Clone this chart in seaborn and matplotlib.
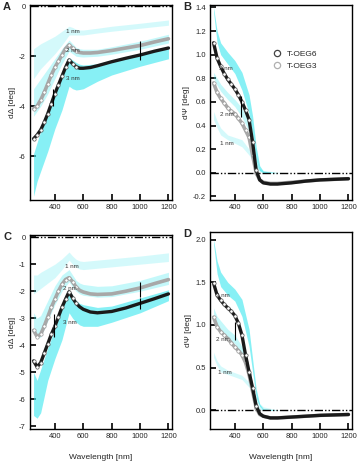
import numpy as np
import pandas as pd
import seaborn as sns
import matplotlib.pyplot as plt
from matplotlib.lines import Line2D

sns.set_theme(style="ticks")
plt.rcParams['font.family'] = ['Liberation Sans', 'DejaVu Sans']
plt.rcParams['axes.unicode_minus'] = False

# wavelengths of the measured series
wl = [250, 275, 300, 325, 350, 375, 400, 425, 450, 475, 500, 525, 550, 575, 600,
      650, 700, 800, 900, 1000, 1100, 1200]

# panel A: dDelta
a_oeg6 = [-5.3, -5.15, -4.95, -4.65, -4.3, -3.9, -3.5, -3.15, -2.8, -2.45, -2.15, -2.3,
          -2.42, -2.48, -2.48, -2.45, -2.38, -2.22, -2.08, -1.95, -1.8, -1.67]
a_oeg3 = [-4.1, -4.0, -3.75, -3.45, -3.1, -2.75, -2.45, -2.2, -1.95, -1.7, -1.55, -1.68,
          -1.8, -1.85, -1.87, -1.87, -1.85, -1.77, -1.67, -1.57, -1.43, -1.3]
# panel B: dPsi
b_oeg6 = [1.1, 0.97, 0.9, 0.84, 0.79, 0.75, 0.71, 0.66, 0.6, 0.53, 0.45, 0.26, 0.02,
          -0.06, -0.085, -0.095, -0.095, -0.085, -0.07, -0.06, -0.055, -0.05]
b_oeg3 = [0.76, 0.68, 0.63, 0.59, 0.55, 0.52, 0.5, 0.46, 0.42, 0.36, 0.3, 0.15, 0.0,
          -0.06, -0.08, -0.09, -0.09, -0.08, -0.07, -0.06, -0.055, -0.05]
# panel C: dDelta
c_oeg6 = [-4.58, -4.8, -4.65, -4.3, -3.95, -3.6, -3.3, -2.95, -2.6, -2.3, -2.02, -2.25,
          -2.45, -2.58, -2.67, -2.77, -2.8, -2.75, -2.62, -2.45, -2.28, -2.1]
c_oeg3 = [-3.45, -3.68, -3.6, -3.3, -2.95, -2.6, -2.3, -2.0, -1.75, -1.57, -1.5, -1.65,
          -1.85, -1.97, -2.03, -2.1, -2.12, -2.1, -2.0, -1.88, -1.72, -1.57]
# panel D: dPsi
d_oeg6 = [1.49, 1.35, 1.29, 1.24, 1.2, 1.16, 1.11, 1.02, 0.88, 0.65, 0.45, 0.26, 0.05,
          -0.04, -0.07, -0.09, -0.09, -0.08, -0.07, -0.06, -0.055, -0.05]
d_oeg3 = [1.09, 0.98, 0.92, 0.88, 0.84, 0.79, 0.74, 0.7, 0.65, 0.56, 0.42, 0.22, 0.03,
          -0.05, -0.07, -0.09, -0.09, -0.08, -0.07, -0.06, -0.055, -0.05]

# model bands (1, 2, 3 nm)
band_wl = [250, 275, 300, 350, 400, 450, 500, 525, 550, 575, 600, 700, 800, 1000, 1200]
a_3nm_hi = [-5.9, -5.45, -5.0, -4.2, -3.4, -2.7, -2.05, -2.15, -2.25, -2.32, -2.35, -2.3, -2.15, -1.9, -1.7]
a_3nm_lo = [-7.6, -7.0, -6.6, -5.8, -4.9, -4.15, -3.2, -3.3, -3.35, -3.33, -3.3, -3.0, -2.75, -2.4, -2.1]
a_2nm_hi = [-3.3, -3.1, -2.9, -2.5, -2.1, -1.7, -1.35, -1.5, -1.65, -1.7, -1.72, -1.72, -1.62, -1.4, -1.12]
a_2nm_lo = [-4.4, -4.2, -4.0, -3.5, -2.9, -2.3, -1.8, -1.9, -2.0, -2.02, -2.03, -2.0, -1.92, -1.72, -1.47]
a_1nm_hi = [-1.7, -1.6, -1.5, -1.35, -1.2, -1.0, -0.8, -0.85, -0.92, -0.95, -0.95, -0.88, -0.8, -0.68, -0.55]
a_1nm_lo = [-2.9, -2.7, -2.5, -2.2, -1.9, -1.55, -1.15, -1.15, -1.15, -1.15, -1.15, -1.07, -1.0, -0.88, -0.76]

b_3nm_hi = [1.40, 1.2, 1.1, 1.02, 0.95, 0.85, 0.66, 0.48, 0.22, 0.06, 0.015, 0.0, 0.0, 0.0, 0.0]
b_3nm_lo = [1.36, 1.1, 1.0, 0.92, 0.84, 0.7, 0.5, 0.32, 0.1, 0.02, 0.0, 0.0, 0.0, 0.0, 0.0]
b_2nm_hi = [0.85, 0.8, 0.75, 0.68, 0.62, 0.55, 0.42, 0.28, 0.1, 0.03, 0.01, 0.0, 0.0, 0.0, 0.0]
b_2nm_lo = [0.8, 0.74, 0.69, 0.62, 0.56, 0.47, 0.35, 0.2, 0.05, 0.01, 0.0, 0.0, 0.0, 0.0, 0.0]
b_1nm_hi = [0.52, 0.44, 0.38, 0.32, 0.3, 0.28, 0.2, 0.14, 0.08, 0.04, 0.02, 0.005, 0.0, 0.0, 0.0]
b_1nm_lo = [0.45, 0.38, 0.32, 0.28, 0.25, 0.22, 0.15, 0.1, 0.05, 0.02, 0.01, 0.0, 0.0, 0.0, 0.0]

c_3nm_hi = [-5.0, -5.3, -4.9, -4.1, -3.4, -2.6, -1.95, -2.15, -2.35, -2.45, -2.5, -2.6, -2.55, -2.25, -1.95]
c_3nm_lo = [-6.6, -6.7, -6.5, -5.3, -4.5, -3.8, -2.8, -3.0, -3.15, -3.25, -3.3, -3.3, -3.15, -2.8, -2.35]
c_2nm_hi = [-2.8, -3.0, -2.9, -2.35, -1.8, -1.4, -1.2, -1.4, -1.6, -1.7, -1.75, -1.82, -1.8, -1.6, -1.3]
c_2nm_lo = [-3.6, -3.75, -3.7, -3.1, -2.5, -2.0, -1.65, -1.85, -2.0, -2.1, -2.15, -2.22, -2.2, -2.0, -1.75]
c_1nm_hi = [-1.4, -1.4, -1.3, -1.15, -1.0, -0.8, -0.55, -0.7, -0.82, -0.88, -0.9, -0.85, -0.8, -0.7, -0.58]
c_1nm_lo = [-2.1, -2.0, -1.9, -1.7, -1.5, -1.2, -0.85, -1.0, -1.12, -1.18, -1.2, -1.15, -1.1, -1.0, -0.9]

d_3nm_hi = [2.0, 1.75, 1.62, 1.5, 1.42, 1.3, 0.95, 0.6, 0.25, 0.07, 0.02, 0.0, 0.0, 0.0, 0.0]
d_3nm_lo = [1.95, 1.6, 1.45, 1.35, 1.28, 1.1, 0.75, 0.45, 0.15, 0.04, 0.0, 0.0, 0.0, 0.0, 0.0]
d_2nm_hi = [1.2, 1.1, 1.05, 0.95, 0.88, 0.75, 0.5, 0.3, 0.1, 0.03, 0.01, 0.0, 0.0, 0.0, 0.0]
d_2nm_lo = [1.1, 1.0, 0.95, 0.85, 0.78, 0.65, 0.42, 0.22, 0.06, 0.01, 0.0, 0.0, 0.0, 0.0, 0.0]
d_1nm_hi = [0.68, 0.58, 0.52, 0.47, 0.44, 0.41, 0.33, 0.24, 0.15, 0.08, 0.04, 0.005, 0.0, 0.0, 0.0]
d_1nm_lo = [0.62, 0.52, 0.45, 0.42, 0.39, 0.36, 0.27, 0.18, 0.1, 0.05, 0.02, 0.0, 0.0, 0.0, 0.0]

# error bars (x, low, high)
a_err = [(390, -3.3, -4.0), (1000, -1.4, -2.15)]
b_err = [(440, 0.47, 0.65)]
c_err = [(395, -2.85, -3.7), (1000, -1.65, -2.2), (1000, -2.25, -2.65)]
d_err = [(400, 0.82, 1.03)]

# text labels of the bands (x, y)
a_lab = {'1 nm': (530, -1.03), '2 nm': (525, -1.76), '3 nm': (530, -2.9)}
b_lab = {'3 nm': (335, 0.88), '2 nm': (341, 0.49), '1 nm': (341, 0.25)}
c_lab = {'1 nm': (518, -1.07), '2 nm': (506, -1.9), '3 nm': (506, -3.15)}
d_lab = {'3 nm': (318, 1.34), '2 nm': (318, 0.83), '1 nm': (330, 0.44)}

W, H = 360, 465
fig = plt.figure(figsize=(W / 100, H / 100), dpi=100)

CYAN = '#3ee8ef'
DARK = '#1a1a1a'
LIGHT = '#a8a8a8'
# open markers only where the data is sparse (UV side)
uv_pts = [i for i, w in enumerate(wl) if w <= 550]


def panel(rect, s6, s3, bands, errs, labels, ylim, yticks, ylabel, letter, fmt, xlabel):
    ax = fig.add_axes(rect)
    hi3, lo3, hi2, lo2, hi1, lo1 = bands
    ax.fill_between(band_wl, lo1, hi1, color=CYAN, alpha=0.22, lw=0)
    ax.fill_between(band_wl, lo2, hi2, color=CYAN, alpha=0.3, lw=0)
    ax.fill_between(band_wl, lo3, hi3, color=CYAN, alpha=0.62, lw=0)
    ax.axhline(0, color='black', lw=1.0, ls=(0, (6, 1.5, 1, 1.5, 1, 1.5)), zorder=2)
    df = pd.DataFrame({'wl': wl, 'oeg6': s6, 'oeg3': s3})
    sns.lineplot(data=df, x='wl', y='oeg3', ax=ax, color=LIGHT, lw=2.6,
                 marker='o', markersize=2.4, mfc='white', mec='#999999', mew=0.5,
                 markevery=uv_pts, zorder=3)
    sns.lineplot(data=df, x='wl', y='oeg6', ax=ax, color=DARK, lw=2.4,
                 marker='o', markersize=2.4, mfc='white', mec='#555555', mew=0.5,
                 markevery=uv_pts, zorder=4)
    for x, y0, y1 in errs:
        ax.vlines(x, y0, y1, color='black', lw=0.8, zorder=5)
    for t, (x, y) in labels.items():
        ax.text(x, y, t, fontsize=4.5, ha='center', va='center', color='#333333', zorder=6)
    ax.set_xlim(225, 1225)
    ax.set_ylim(*ylim)
    ax.set_xticks([400, 600, 800, 1000, 1200])
    ax.set_yticks(yticks)
    ax.set_yticklabels([fmt.format(v) for v in yticks])
    ax.tick_params(direction='in', length=4, width=1.2, labelsize=5.5, pad=3,
                   top=False, right=False, color='black')
    for sp in ax.spines.values():
        sp.set_linewidth(1.0)
        sp.set_color('black')
    ax.set_ylabel(ylabel, fontsize=6, labelpad=2)
    ax.set_xlabel(xlabel, fontsize=6, labelpad=10)
    ax.text(-0.19, 0.99, letter, transform=ax.transAxes, fontsize=8, fontweight='bold',
            ha='left', va='center')
    return ax


axA = panel([30 / W, 1 - 200 / H, 142 / W, 195 / H], a_oeg6, a_oeg3,
            (a_3nm_hi, a_3nm_lo, a_2nm_hi, a_2nm_lo, a_1nm_hi, a_1nm_lo), a_err, a_lab,
            (-7.75, 0.05), [0, -2, -4, -6], 'd\u0394 [deg]', 'A', '{:g}', '')
axB = panel([210 / W, 1 - 200 / H, 142 / W, 195 / H], b_oeg6, b_oeg3,
            (b_3nm_hi, b_3nm_lo, b_2nm_hi, b_2nm_lo, b_1nm_hi, b_1nm_lo), b_err, b_lab,
            (-0.23, 1.42), [-0.2, 0.0, 0.2, 0.4, 0.6, 0.8, 1.0, 1.2, 1.4], 'd\u03a8 [deg]', 'B',
            '{:.1f}', '')
axC = panel([30 / W, 1 - 429 / H, 142 / W, 194 / H], c_oeg6, c_oeg3,
            (c_3nm_hi, c_3nm_lo, c_2nm_hi, c_2nm_lo, c_1nm_hi, c_1nm_lo), c_err, c_lab,
            (-7.1, 0.08), [0, -1, -2, -3, -4, -5, -6, -7], 'd\u0394 [deg]', 'C', '{:g}',
            'Wavelength [nm]')
axD = panel([210 / W, 1 - 429 / H, 142 / W, 197 / H], d_oeg6, d_oeg3,
            (d_3nm_hi, d_3nm_lo, d_2nm_hi, d_2nm_lo, d_1nm_hi, d_1nm_lo), d_err, d_lab,
            (-0.22, 2.09), [0.0, 0.5, 1.0, 1.5, 2.0], 'd\u03a8 [deg]', 'D', '{:.1f}',
            'Wavelength [nm]')

handles = [Line2D([], [], ls='none', marker='o', ms=4.5, mfc='none', mec='#444444', mew=0.9),
           Line2D([], [], ls='none', marker='o', ms=4.5, mfc='none', mec='#b0b0b0', mew=0.9)]
axB.legend(handles, ['T-OEG6', 'T-OEG3'], loc='upper left', bbox_to_anchor=(0.41, 0.785),
           frameon=False, fontsize=6, handletextpad=0.6, labelspacing=0.5,
           borderaxespad=0, handlelength=1.2)

fig.savefig('out.png', dpi=100)
